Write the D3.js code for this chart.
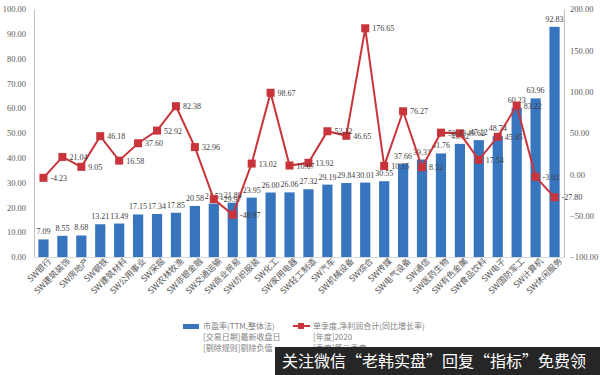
<!DOCTYPE html>
<html>
<head>
<meta charset="utf-8">
<script src="https://cdn.jsdelivr.net/npm/d3@7"></script>
<style>
  body { margin: 0; background: #fff; }
  svg { display: block; }
</style>
</head>
<body>
<div id="chart"></div>
<script>
// ── data ─────────────────────────────────────────────────
const categories = [
  'SW银行', 'SW建筑装饰', 'SW房地产', 'SW钢铁', 'SW建筑材料', 'SW公用事业', 'SW采掘',
  'SW农林牧渔', 'SW非银金融', 'SW交通运输', 'SW商业贸易', 'SW纺织服装', 'SW化工', 'SW家用电器',
  'SW轻工制造', 'SW汽车', 'SW机械设备', 'SW综合', 'SW传媒', 'SW电气设备', 'SW通信',
  'SW医药生物', 'SW有色金属', 'SW食品饮料', 'SW电子', 'SW国防军工', 'SW计算机', 'SW休闲服务'
];
const peValues = [
  7.09, 8.55, 8.68, 13.21, 13.49, 17.15, 17.34,
  17.85, 20.58, 21.53, 21.89, 23.95, 26.00, 26.06,
  27.32, 29.19, 29.84, 30.01, 30.55, 37.66, 39.31,
  41.76, 45.62, 47.12, 48.74, 60.23, 63.96, 92.83
];
const growthValues = [
  -4.23, 21.04, 9.05, 46.18, 16.58, 37.60, 52.92,
  82.38, 32.96, -29.97, -48.97, 13.02, 98.67, 10.67,
  13.92, 52.12, 46.65, 176.65, 10.15, 76.27, 8.52,
  50.43, 49.62, 17.54, 45.45, 83.22, -3.02, -27.80
];
const leftTicks  = [0, 10, 20, 30, 40, 50, 60, 70, 80, 90, 100];
const rightTicks = [-100, -50, 0, 50, 100, 150, 200];
const legendBar  = ['市盈率(TTM,整体法)', '[交易日期]最新收盘日', '[剔除规则]剔除负值'];
const legendLine = ['单季度.净利润合计(同比增长率)', '[年度]2020', '[季度]第三季度'];
const banner = '关注微信“老韩实盘”回复“指标”免费领';

// ── layout ───────────────────────────────────────────────
const W = 600, H = 375;
const plot = { left: 34, right: 564, top: 9, bottom: 257 };
const BLUE = '#3875bf', RED = '#c9343a', GREY = '#595959';
const numFont = '"Liberation Serif", "DejaVu Serif", serif';
const cjkFont = '"Noto Sans CJK SC", "Noto Sans", sans-serif';

const svg = d3.select('#chart').append('svg')
  .attr('width', W).attr('height', H);

const x = d3.scaleBand().domain(categories)
  .range([plot.left, plot.right]).paddingInner(0.46).paddingOuter(0.23);
const yL = d3.scaleLinear().domain([0, 100]).range([plot.bottom, plot.top]);
const yR = d3.scaleLinear().domain([-100, 200]).range([plot.bottom, plot.top]);

// ── axes ─────────────────────────────────────────────────
const axL = svg.append('g')
  .attr('transform', `translate(${plot.left},0)`)
  .call(d3.axisLeft(yL).tickValues(leftTicks).tickSize(0).tickPadding(8)
    .tickFormat(d3.format('.2f')));
const axR = svg.append('g')
  .attr('transform', `translate(${plot.right},0)`)
  .call(d3.axisRight(yR).tickValues(rightTicks).tickSize(0).tickPadding(6)
    .tickFormat(d3.format('.2f')));
[axL, axR].forEach(ax => {
  ax.select('.domain').attr('stroke', '#bfbfbf');
  ax.selectAll('text').attr('fill', GREY)
    .attr('font-family', numFont).attr('font-size', 8.5);
});

const axB = svg.append('g')
  .attr('transform', `translate(0,${plot.bottom})`)
  .call(d3.axisBottom(x).tickSize(0).tickPadding(4));
axB.select('.domain').attr('stroke', '#d9d9d9');
axB.selectAll('text')
  .attr('font-family', cjkFont).attr('font-size', 8.5).attr('fill', GREY)
  .attr('text-anchor', 'end')
  .attr('dx', '0.3em').attr('dy', '0.6em')
  .attr('transform', 'rotate(-45)');

// ── bars ─────────────────────────────────────────────────
svg.append('g').selectAll('rect')
  .data(peValues)
  .join('rect')
    .attr('x', (d, i) => x(categories[i]))
    .attr('y', d => yL(d))
    .attr('width', x.bandwidth())
    .attr('height', d => yL(0) - yL(d))
    .attr('fill', BLUE);

svg.append('g').selectAll('text')
  .data(peValues)
  .join('text')
    .attr('x', (d, i) => x(categories[i]) + x.bandwidth() / 2)
    .attr('y', d => yL(d) - 5)
    .attr('text-anchor', 'middle')
    .attr('font-family', numFont).attr('font-size', 8)
    .attr('fill', '#404040')
    .text(d => d.toFixed(2));

// ── growth line ──────────────────────────────────────────
const cx = i => x(categories[i]) + x.bandwidth() / 2;
const line = d3.line().x((d, i) => cx(i)).y(d => yR(d));

svg.append('path')
  .datum(growthValues)
  .attr('d', line)
  .attr('fill', 'none')
  .attr('stroke', RED)
  .attr('stroke-width', 2);

svg.append('g').selectAll('rect')
  .data(growthValues)
  .join('rect')
    .attr('x', (d, i) => cx(i) - 4)
    .attr('y', d => yR(d) - 4)
    .attr('width', 8).attr('height', 8)
    .attr('fill', RED);

svg.append('g').selectAll('text')
  .data(growthValues)
  .join('text')
    .attr('x', (d, i) => cx(i) + 7)
    .attr('y', d => yR(d) + 3)
    .attr('font-family', numFont).attr('font-size', 8)
    .attr('fill', '#404040')
    .text(d => d.toFixed(2));

// ── legend ───────────────────────────────────────────────
const lg = svg.append('g').attr('font-family', cjkFont)
  .attr('font-size', 8).attr('fill', '#7f7f7f');
lg.append('rect').attr('x', 183).attr('y', 324).attr('width', 16).attr('height', 5)
  .attr('fill', BLUE);
legendBar.forEach((t, i) => {
  lg.append('text').attr('x', 203).attr('y', 329 + i * 11).text(t);
});
lg.append('line').attr('x1', 293).attr('x2', 310).attr('y1', 326).attr('y2', 326)
  .attr('stroke', RED).attr('stroke-width', 2);
lg.append('rect').attr('x', 298).attr('y', 323).attr('width', 6).attr('height', 6)
  .attr('fill', RED);
legendLine.forEach((t, i) => {
  lg.append('text').attr('x', 313).attr('y', 329 + i * 11).text(t);
});

// ── banner overlay ───────────────────────────────────────
svg.append('rect').attr('x', 275).attr('y', 347).attr('width', W - 275).attr('height', H - 347)
  .attr('fill', '#262626');
svg.append('text').attr('x', 282).attr('y', 367)
  .attr('font-family', cjkFont).attr('font-size', 16).attr('fill', '#fff')
  .text(banner);
</script>
</body>
</html>
